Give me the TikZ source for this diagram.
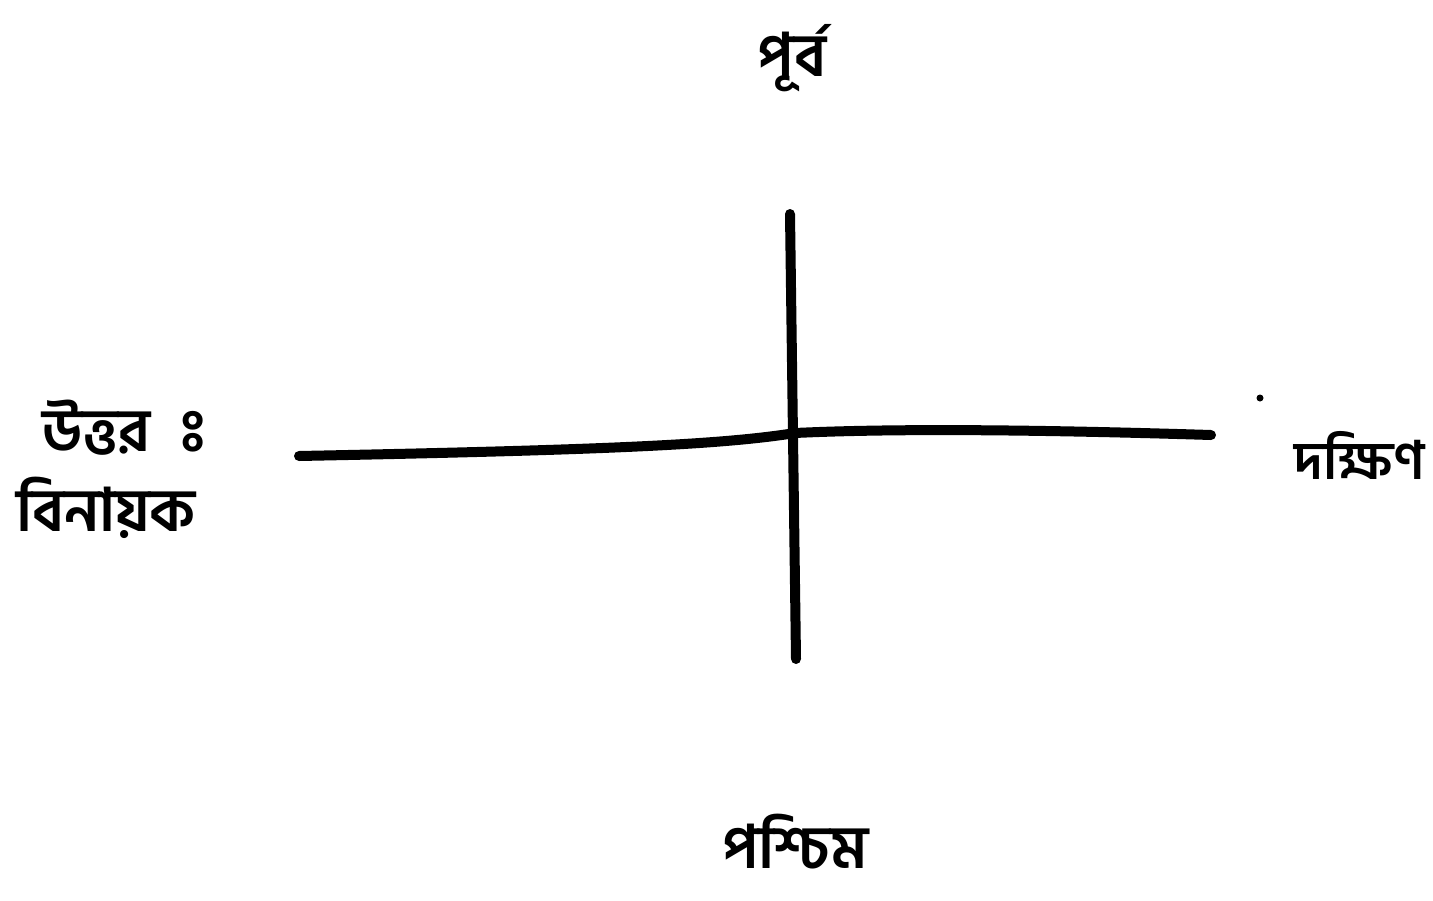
\documentclass[tikz,border=0pt]{standalone}
\usepackage{fontspec}
\newfontfamily\bn[Script=Bengali]{Hind Siliguri}
\newcommand\visarga{\XeTeXglyph\XeTeXcharglyph"0983\relax}
\begin{document}
\begin{tikzpicture}[x=1pt,y=-1pt,
  axis/.style={line width=10pt,line cap=round},
  lbl/.style={font=\bn\bfseries\fontsize{60}{68}\selectfont,inner sep=0pt}]
\useasboundingbox (0,0) rectangle (1433,900);
\coordinate (vt) at (790,214);
\coordinate (vb) at (796,659);
\coordinate (hl) at (299,456);
\coordinate (hc) at (795,433);
\coordinate (hr) at (1211,435);
\draw[axis] (vt) -- (vb);
\draw[axis] (hl) .. controls (600,450) and (720,445) .. (hc) .. controls (900,428) and (1050,430) .. (hr);
\fill (1260,398) circle (3.5pt);
\node[lbl] (east) at (792,58) {পূর্ব};
\node[lbl,anchor=west] (north) at (42,428) {উত্তর\hspace{0.5em}\visarga};
\node[lbl,anchor=west] (name) at (16,508) {বিনায়ক};
\node[lbl,font=\bn\bfseries\fontsize{53}{60}\selectfont] (south) at (1360,455) {দক্ষিণ};
\node[lbl] (west) at (795,842) {পশ্চিম};
\end{tikzpicture}
\end{document}
